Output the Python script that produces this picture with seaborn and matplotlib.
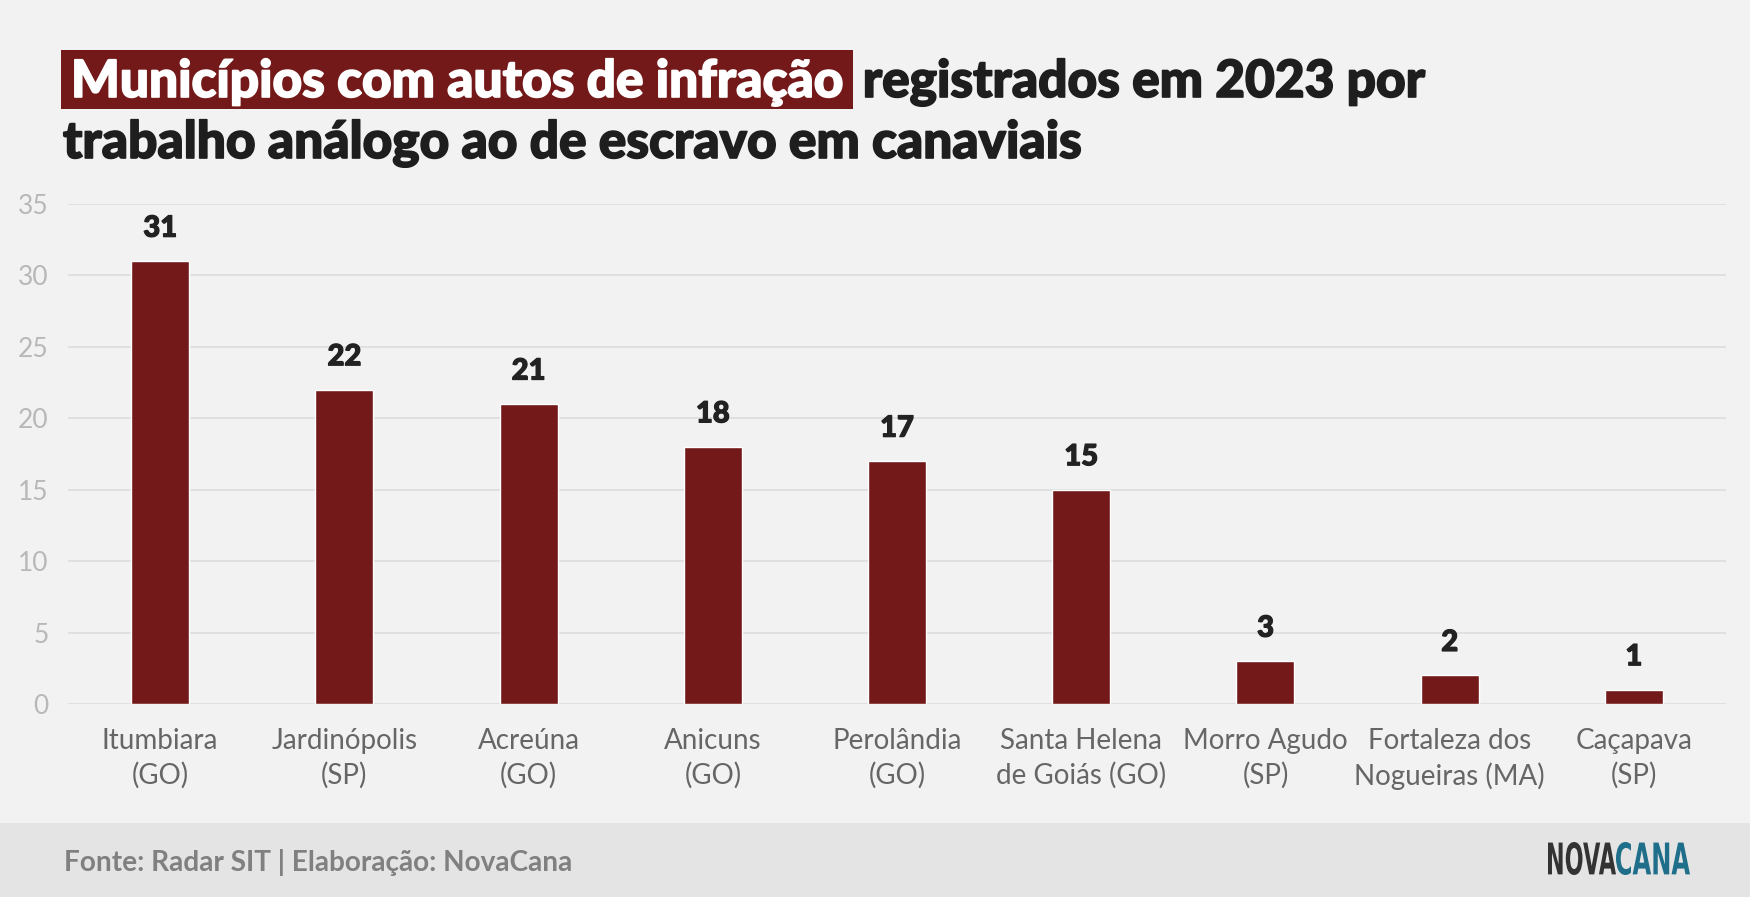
import matplotlib
matplotlib.use("Agg")
import matplotlib.pyplot as plt
import seaborn as sns
import pandas as pd
import matplotlib.patheffects as pe
from matplotlib.patches import Rectangle, PathPatch
from matplotlib.textpath import TextPath
from matplotlib.font_manager import FontProperties
from matplotlib.transforms import Affine2D, IdentityTransform

# dados
municipios = ["Itumbiara\n(GO)", "Jardinópolis\n(SP)", "Acreúna\n(GO)", "Anicuns\n(GO)",
              "Perolândia\n(GO)", "Santa Helena\nde Goiás (GO)", "Morro Agudo\n(SP)",
              "Fortaleza dos\nNogueiras (MA)", "Caçapava\n(SP)"]
autos = [31, 22, 21, 18, 17, 15, 3, 2, 1]
y_ticks = [0, 5, 10, 15, 20, 25, 30, 35]

titulo_destaque = "Municípios com autos de infração"
titulo_resto = "registrados em 2023 por"
titulo_linha2 = "trabalho análogo ao de escravo em canaviais"
fonte = "Fonte: Radar SIT | Elaboração: NovaCana"

VERMELHO = "#741919"
FUNDO = "#f2f2f2"
W, H = 1750, 897

sns.set_theme(style="white")
plt.rcParams["font.family"] = ["Lato", "DejaVu Sans"]

df = pd.DataFrame({"municipio": municipios, "autos": autos})

fig = plt.figure(figsize=(17.5, 8.97), dpi=100, facecolor=FUNDO)
ax = fig.add_axes([0.0389, 0.2152, 0.9474, 0.5574])
ax.set_facecolor(FUNDO)

sns.barplot(data=df, x="municipio", y="autos", color=VERMELHO, saturation=1,
            width=0.315, ax=ax, zorder=3)

ax.set_ylim(0, 35)
ax.set_xlim(-0.5, len(municipios) - 0.5)
ax.set_yticks(y_ticks)
ax.yaxis.grid(True, color="#dddddd", linewidth=1.2, zorder=0)
ax.xaxis.grid(False)
for s in ax.spines.values():
    s.set_visible(False)
ax.set_xlabel("")
ax.set_ylabel("")
ax.tick_params(axis="y", length=0, pad=14, labelsize=19, labelcolor="#b8b8b8")
ax.tick_params(axis="x", length=0, pad=17, labelsize=20, labelcolor="#666666")
for lbl in ax.get_xticklabels():
    lbl.set_linespacing(1.4)

grosso = [pe.withStroke(linewidth=0.9, foreground="#222222")]
for c in ax.containers:
    for t in ax.bar_label(c, fmt="%d", padding=14, fontsize=21, fontweight="black",
                          color="#222222"):
        t.set_path_effects(grosso)

# titulo
y_base = H - 97
t1 = fig.text(71 / W, y_base / H, titulo_destaque, fontsize=37, fontweight="black",
              color="white", va="baseline", ha="left", zorder=5,
              path_effects=[pe.withStroke(linewidth=1.2, foreground="white")])
fig.canvas.draw()
bb = t1.get_window_extent()
fig.patches.append(Rectangle((bb.x0 - 10, y_base - 12), bb.width + 20, 59,
                             transform=IdentityTransform(), facecolor=VERMELHO,
                             edgecolor="none", zorder=1))
fig.text((bb.x1 + 20) / W, y_base / H, titulo_resto, fontsize=37,
         fontweight="black", color="#1e1e1e", va="baseline", ha="left",
         path_effects=[pe.withStroke(linewidth=1.2, foreground="#1e1e1e")])
fig.text(63 / W, 1 - 158 / H, titulo_linha2, fontsize=37, fontweight="black",
         color="#1e1e1e", va="baseline", ha="left",
         path_effects=[pe.withStroke(linewidth=1.2, foreground="#1e1e1e")])

# rodape
fig.patches.append(Rectangle((0, 0), 1, 74 / H, transform=fig.transFigure,
                             facecolor="#e4e4e4", edgecolor="none", zorder=0))
fig.text(64 / W, 1 - 862 / H, fonte, fontsize=20.2, fontweight="bold",
         color="#808080", va="center", ha="left")

# logo
prop = FontProperties(family="DejaVu Sans", weight="bold")
x0 = 1548
for palavra, cor, largura in [("NOVA", "#333333", 68), ("CANA", "#1f6e8a", 74)]:
    tp = TextPath((0, 0), palavra, size=40, prop=prop)
    ext = tp.get_extents()
    sx = largura / ext.width
    sy = 33 / ext.height
    tr = Affine2D().translate(-ext.x0, -ext.y0).scale(sx, sy).translate(x0, H - 875)
    fig.patches.append(PathPatch(tr.transform_path(tp), facecolor=cor, edgecolor="none",
                                 transform=IdentityTransform()))
    x0 += largura

fig.savefig("out.png", dpi=100, facecolor=FUNDO)
